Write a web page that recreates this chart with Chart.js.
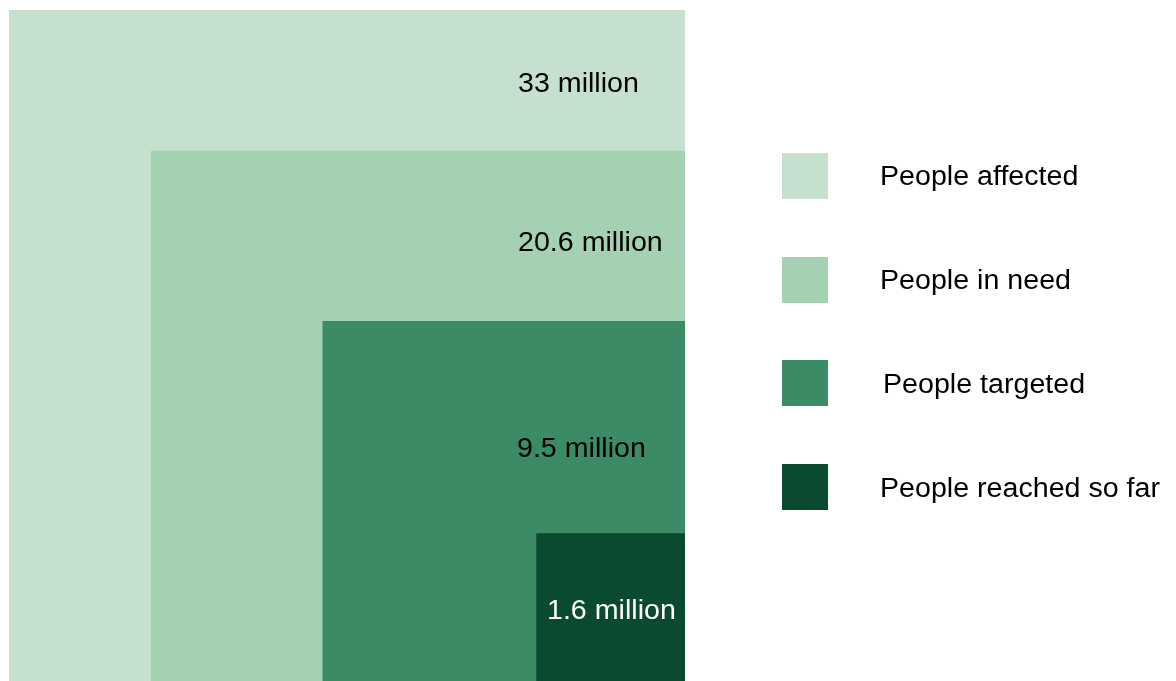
<!DOCTYPE html>
<html>
<head>
<meta charset="utf-8">
<style>
  html, body { margin: 0; padding: 0; background: #ffffff; }
  #wrap { width: 1176px; height: 681px; }
</style>
<script src="https://cdn.jsdelivr.net/npm/chart.js@4.4.1/dist/chart.umd.min.js"></script>
</head>
<body>
<div id="wrap"><canvas id="c" width="1176" height="681"></canvas></div>
<script>
// ---- data ----
const categories = ["People affected", "People in need", "People targeted", "People reached so far"];
const valuesMillion = [33, 20.6, 9.5, 1.6];
const valueLabels = ["33 million", "20.6 million", "9.5 million", "1.6 million"];
const colors = ["#c5e1cd", "#a3d1b1", "#3b8c64", "#0a4a2f"];
const labelColors = ["#000000", "#000000", "#000000", "#ffffff"];

// side of each square proportional to sqrt(value) so area ~ value
const sides = valuesMillion.map(v => Math.sqrt(v));
const maxSide = sides[0];

const datasets = categories.map((name, i) => {
  const s = sides[i];
  return {
    label: name,
    data: [{x: 0, y: 0}, {x: 0, y: s}, {x: s, y: s}, {x: s, y: 0}],
    showLine: true,
    fill: 'origin',
    backgroundColor: colors[i],
    borderColor: colors[i],
    borderWidth: 0,
    pointRadius: 0,
    pointHoverRadius: 0,
    tension: 0,
    order: categories.length - i
  };
});

const FONT = '"Liberation Sans", Arial, sans-serif';
const FONT_SIZE = 27;
const XSTRETCH = 1.06;

function drawStretched(ctx, text, x, y, color) {
  ctx.save();
  ctx.translate(x, y);
  ctx.scale(XSTRETCH, 1);
  ctx.fillStyle = color;
  ctx.font = FONT_SIZE + 'px ' + FONT;
  ctx.textAlign = 'left';
  ctx.textBaseline = 'middle';
  ctx.fillText(text, 0, 0);
  ctx.restore();
}

// label placement (pixel offsets inside each square's band)
const labelPos = [
  {x: 518, y: 85},
  {x: 518, y: 244},
  {x: 517, y: 450},
  {x: 547, y: 612}
];

const overlayPlugin = {
  id: 'overlay',
  afterDraw(chart) {
    const ctx = chart.ctx;
    // value labels
    valueLabels.forEach((t, i) => {
      drawStretched(ctx, t, labelPos[i].x, labelPos[i].y, labelColors[i]);
    });
    // legend
    const boxX = 782, boxSize = 46, textX = 880;
    const firstCenter = 176, step = 103.7;
    categories.forEach((name, i) => {
      const cy = firstCenter + i * step;
      ctx.fillStyle = colors[i];
      ctx.fillRect(boxX, Math.round(cy - boxSize / 2), boxSize, boxSize);
      drawStretched(ctx, name, textX + (i === 2 ? 3 : 0), cy + 2, '#000000');
    });
  }
};

new Chart(document.getElementById('c'), {
  type: 'scatter',
  data: { datasets },
  options: {
    responsive: false,
    devicePixelRatio: 1,
    animation: false,
    layout: { padding: { left: 9, right: 491, top: 10, bottom: 0 } },
    scales: {
      x: { type: 'linear', min: 0, max: maxSide, reverse: true, display: false },
      y: { type: 'linear', min: 0, max: maxSide, display: false }
    },
    plugins: {
      legend: { display: false },
      tooltip: { enabled: false },
      filler: { propagate: false }
    },
    elements: { line: { borderWidth: 0 } }
  },
  plugins: [overlayPlugin]
});
</script>
</body>
</html>
